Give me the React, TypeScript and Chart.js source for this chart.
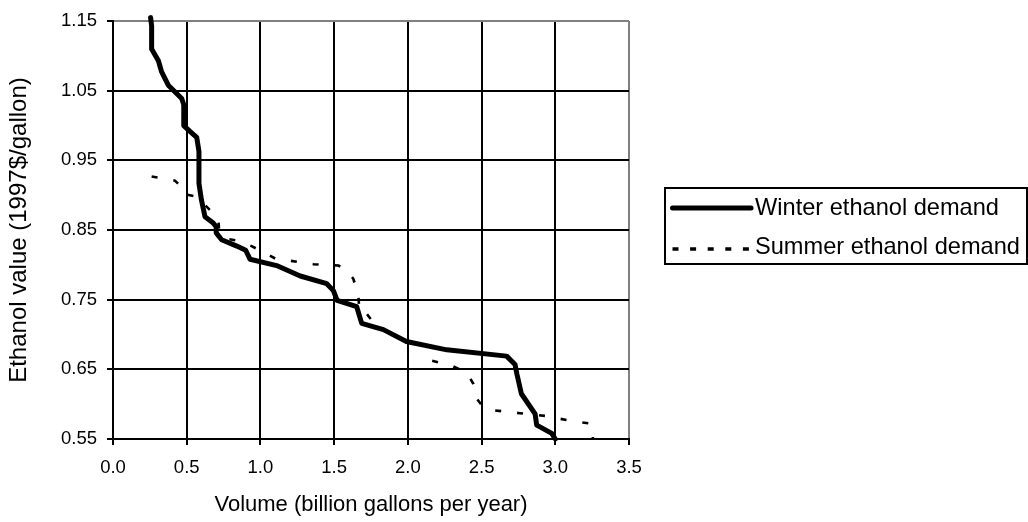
import React, { useEffect, useRef } from "react";
import { Chart, registerables } from "chart.js";

Chart.register(...registerables);

// ---- Data ----
const xTicks = [0, 0.5, 1.0, 1.5, 2.0, 2.5, 3.0, 3.5];
const yTicks = [0.55, 0.65, 0.75, 0.85, 0.95, 1.05, 1.15];
const seriesLabels = ["Winter ethanol demand", "Summer ethanol demand"];
const xTitle = "Volume (billion gallons per year)";
const yTitle = "Ethanol value (1997$/gallon)";

const winterX = [0.255, 0.262, 0.262, 0.308, 0.33, 0.375, 0.466, 0.48, 0.48, 0.52, 0.568, 0.583, 0.583, 0.6, 0.624, 0.68, 0.7, 0.7, 0.737, 0.84, 0.9, 0.93, 1.11, 1.27, 1.45, 1.495, 1.52, 1.653, 1.687, 1.834, 1.99, 2.264, 2.67, 2.727, 2.74, 2.77, 2.863, 2.874, 2.976, 3.0];
const winterY = [1.155, 1.143, 1.11, 1.093, 1.077, 1.058, 1.039, 1.03, 1.0, 0.992, 0.983, 0.963, 0.917, 0.893, 0.869, 0.86, 0.855, 0.846, 0.836, 0.827, 0.821, 0.808, 0.799, 0.784, 0.773, 0.763, 0.749, 0.74, 0.716, 0.707, 0.69, 0.678, 0.669, 0.657, 0.643, 0.615, 0.586, 0.57, 0.558, 0.55];

const summerX = [0.262, 0.42, 0.455, 0.477, 0.568, 0.68, 0.715, 0.72, 0.78, 0.84, 0.94, 1.11, 1.2, 1.36, 1.53, 1.585, 1.63, 1.664, 1.671, 1.72, 1.777, 1.834, 1.99, 2.13, 2.137, 2.3, 2.4, 2.445, 2.467, 2.51, 2.59, 2.76, 2.94, 3.08, 3.24, 3.255, 3.255];
const summerY = [0.927, 0.921, 0.914, 0.902, 0.898, 0.874, 0.865, 0.848, 0.837, 0.835, 0.827, 0.808, 0.806, 0.801, 0.799, 0.792, 0.78, 0.758, 0.733, 0.73, 0.714, 0.707, 0.69, 0.684, 0.664, 0.655, 0.645, 0.629, 0.608, 0.596, 0.591, 0.587, 0.583, 0.577, 0.572, 0.56, 0.55];

const FONT = '"Liberation Sans", Arial, sans-serif';

const legendPlugin = {
  id: "boxLegend",
  afterDraw(chart: any) {
    const ctx = chart.ctx;
    ctx.save();
    ctx.setLineDash([]);
    ctx.lineWidth = 2;
    ctx.strokeStyle = "#000";
    ctx.strokeRect(665, 188, 362, 76);
    const lineRows = [208, 249];
    const textRows = [208.5, 247.5];
    chart.data.datasets.forEach((ds: any, i: number) => {
      ctx.beginPath();
      ctx.strokeStyle = ds.borderColor;
      if (i === 0) {
        ctx.lineWidth = 5;
        ctx.lineCap = "round";
        ctx.setLineDash([]);
      } else {
        ctx.lineWidth = 3.3;
        ctx.lineCap = "butt";
        ctx.setLineDash([6, 11.6]);
      }
      ctx.moveTo(672.5, lineRows[i]);
      ctx.lineTo(751, lineRows[i]);
      ctx.stroke();
      ctx.setLineDash([]);
      ctx.fillStyle = "#000";
      ctx.font = `23.6px ${FONT}`;
      ctx.textBaseline = "middle";
      ctx.textAlign = "left";
      ctx.fillText(ds.label, 755, textRows[i]);
    });
    ctx.restore();
  },
};

export default function App() {
  const ref = useRef<HTMLCanvasElement | null>(null);

  useEffect(() => {
    if (!ref.current) return;
    const chart = new Chart(ref.current, {
      type: "scatter",
      data: {
        datasets: [
          {
            label: seriesLabels[0],
            data: winterX.map((x, i) => ({ x, y: winterY[i] })),
            showLine: true,
            borderColor: "#000",
            backgroundColor: "#000",
            borderWidth: 5,
            borderJoinStyle: "round",
            borderCapStyle: "round",
            pointRadius: 0,
            tension: 0,
            clip: false,
          },
          {
            label: seriesLabels[1],
            data: summerX.map((x, i) => ({ x, y: summerY[i] })),
            showLine: true,
            borderColor: "#000",
            backgroundColor: "#000",
            borderWidth: 2.6,
            borderDash: [6, 16],
            borderJoinStyle: "miter",
            borderCapStyle: "butt",
            pointRadius: 0,
            tension: 0,
            clip: false,
          },
        ],
      },
      options: {
        animation: false,
        responsive: false,
        devicePixelRatio: 1,
        layout: { padding: { top: 15, right: 399, left: 0, bottom: 0 } },
        plugins: {
          legend: { display: false },
          tooltip: { enabled: false },
        },
        scales: {
          x: {
            type: "linear",
            min: 0,
            max: 3.5,
            afterBuildTicks: (scale: any) => {
              scale.ticks = xTicks.map((v) => ({ value: v }));
            },
            afterFit: (scale: any) => {
              scale.height = 83;
            },
            ticks: {
              color: "#000",
              font: { family: FONT, size: 18.5 },
              padding: 12,
              maxRotation: 0,
              callback: (v: any) => Number(v).toFixed(1),
            },
            grid: {
              color: (c: any) => (c.tick && c.tick.value === 3.5 ? "#808080" : "#000"),
              tickColor: "#000",
              lineWidth: 2,
              tickLength: 6,
            },
            border: { display: true, color: "#000", width: 2 },
            title: {
              display: true,
              text: xTitle,
              color: "#000",
              font: { family: FONT, size: 22 },
              padding: { top: 4, bottom: 4 },
            },
          },
          y: {
            type: "linear",
            min: 0.55,
            max: 1.15,
            afterBuildTicks: (scale: any) => {
              scale.ticks = yTicks.map((v) => ({ value: v }));
            },
            afterFit: (scale: any) => {
              scale.width = 113;
            },
            ticks: {
              color: "#000",
              font: { family: FONT, size: 18.5 },
              padding: 10,
              callback: (v: any) => Number(v).toFixed(2),
            },
            grid: {
              color: (c: any) => (c.tick && c.tick.value === 1.15 ? "#808080" : "#000"),
              tickColor: "#000",
              lineWidth: 2,
              tickLength: 6,
            },
            border: { display: true, color: "#000", width: 2 },
            title: {
              display: true,
              text: yTitle,
              color: "#000",
              font: { family: FONT, size: 24 },
              padding: { top: 5, bottom: 5 },
            },
          },
        },
      },
      plugins: [legendPlugin],
    } as any);
    return () => chart.destroy();
  }, []);

  return (
    <div style={{ position: "absolute", left: 0, top: 0, width: 1028, height: 522, background: "#fff" }}>
      <canvas ref={ref} width={1028} height={522} style={{ width: 1028, height: 522, display: "block" }} />
    </div>
  );
}
